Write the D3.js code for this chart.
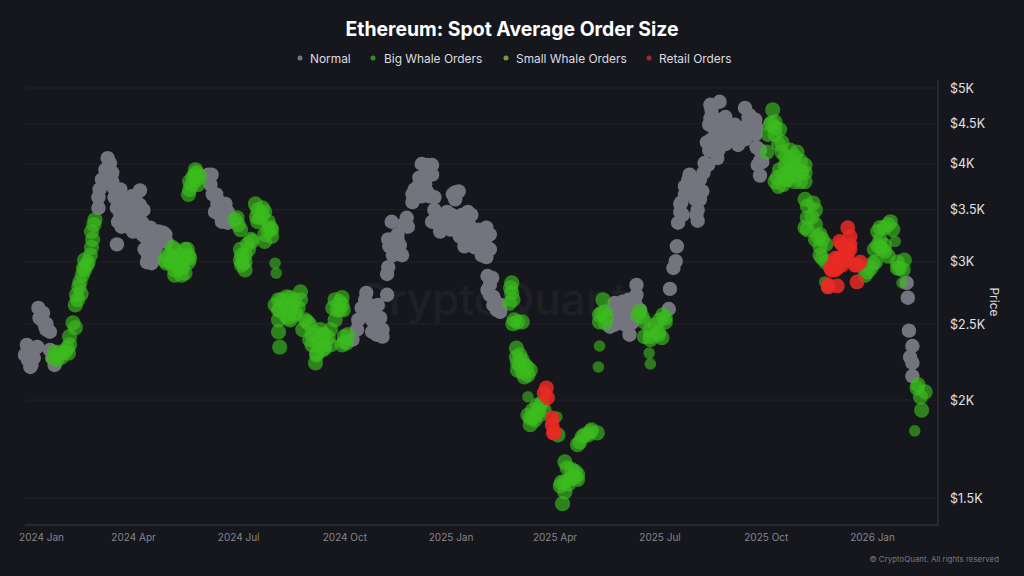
<!DOCTYPE html>
<html><head><meta charset="utf-8">
<script src="https://cdnjs.cloudflare.com/ajax/libs/d3/7.8.5/d3.min.js"></script>
<style>html,body{margin:0;padding:0;background:#16171c;overflow:hidden}svg{display:block;font-family:Inter,"Liberation Sans",sans-serif}</style>
</head><body><svg id="c" width="1024" height="576"></svg>
<script>
const title = "Ethereum: Spot Average Order Size";
const seriesNames = ["Normal","Big Whale Orders","Small Whale Orders","Retail Orders"];
const priceTicks = [1500,2000,2500,3000,3500,4000,4500,5000];
const priceLabels = ["$1.5K","$2K","$2.5K","$3K","$3.5K","$4K","$4.5K","$5K"];
const dateTicks = ["2024-01-01","2024-04-01","2024-07-01","2024-10-01","2025-01-01","2025-04-01","2025-07-01","2025-10-01","2026-01-01"];
const dateLabels = ["2024 Jan","2024 Apr","2024 Jul","2024 Oct","2025 Jan","2025 Apr","2025 Jul","2025 Oct","2026 Jan"];

// days since 2024-01-01 and price in USD
const normalDay = [-1,8,-2.6,2,0,3,2,9,13,12,15,19,16,19,21,23,61,61,64,68,73,69,71,67,74,75,77,82,90,97,94,100,87,81,77,93,91,99,101,117,112,104,106,103,107,114,120,110,84,80,93,106,110,156,158,160,166,162,169,173,175,166,293,311,289,296,303,299,303,298,307,285,281,307,312,311,316,313,318,324,320,315,328,329,325,341,350,350,339,338,333,333,341,346,352,370,370,357,354,357,367,368,381,378,374,378,397,390,385,397,393,384,363,398,400,403,403,409,406,508,515,515,511,527,526,521,523,504,520,555,556,559,561,562,563,565,566,569,573,578,584,580,580,585,586,588,591,599,591,598,597,595,604,605,610,617,615,621,624,621,630,631,631,636,634,601,608,573,592,761,762,763,766,764,766,766];
const normalPrice = [2352,2338,2283,2303,2250,2217,2204,2621,2583,2531,2480,2444,2459,2317,2263,2217,3516,3627,3821,3877,3899,4070,4012,3821,3734,3627,3516,3546,3638,3701,3546,3495,3495,3327,3159,3327,3280,3366,3233,3270,3205,3141,3043,2998,2989,3177,3186,3114,3606,3445,3445,3205,3252,3877,3766,3659,3577,3475,3495,3366,3416,3445,2740,2724,2621,2644,2644,2553,2509,2444,2409,2459,2388,2459,2955,2896,3141,3141,3087,3060,3205,3376,3416,3327,3347,4000,3988,3877,3843,3745,3659,3577,3638,3680,3627,3680,3606,3445,3366,3280,3445,3366,3475,3366,3233,3141,3318,3299,3233,3132,3060,3205,3366,2879,2804,2708,2644,2591,2606,2659,2669,2583,2531,2804,2659,2423,2509,2480,2591,2613,2772,2947,3007,3141,3366,3475,3577,3745,3877,3734,3690,3495,3386,3899,4012,4262,4760,4802,4578,4166,4070,4425,4591,4462,4363,4300,4425,4717,4591,4462,4555,4450,4200,4024,3866,4363,4490,3712,4300,2821,2701,2452,2344,2269,2230,2146];
const normalDayMore = [4,0,5,10,16,67,62,73,80,87,93,84,90,97,78,88,97,99,106,106,113,119,101,110,104,114,95,80,87,159,163,171,164,171,168,173,292,294,301,298,305,292,302,286,316,312,320,322,335,344,338,348,344,346,348,368,373,361,366,372,359,374,378,382,382,387,391,396,400,400,390,384,376,378,397,396,350,352,363,400,398,404,402,409,506,513,520,523,520,527,530,517,508,572,575,580,569,565,578,582,567,579,589,582,592,598,590,602,604,608,612,615,621,625,627,630,590,595,604,634,632,625,634];
const normalPriceMore = [2323,2317,2263,2546,2501,3933,3712,3799,3606,3606,3606,3445,3416,3546,3376,3318,3347,3252,3318,3132,3280,3252,3114,3034,3060,3252,3445,3712,3347,3877,3659,3557,3557,3416,3376,3475,2644,2568,2495,2531,2546,2685,2423,2531,3060,3205,3252,3150,3712,3766,3638,3638,3877,3988,3933,3659,3690,3396,3299,3347,3347,3376,3252,3347,3159,3132,3205,3205,3252,3114,3159,3445,3445,3205,3043,3060,3376,3495,3475,2724,2764,2685,2863,2644,2606,2606,2685,2644,2531,2724,2606,2495,2495,3821,3766,3712,3659,3557,3606,3606,3445,3445,3988,3821,4689,4555,4490,4555,4425,4300,4490,4230,4300,4425,4555,4363,4166,4240,4240,4036,3988,4615,4166];

const bigDay = [22,26,32,25,35,36,39,41,44,45,49,51,49,55,56,57,58,125,138,129,120,134,133,127,139,123,132,136,146,139,142,146,140,149,181,184,199,203,198,208,211,205,194,191,185,186,188,217,224,236,227,223,234,217,218,242,238,249,253,257,249,250,262,264,270,272,273,274,276,231,255,419,419,417,420,428,423,423,424,432,430,424,428,437,435,443,441,445,459,478,482,488,493,480,465,467,474,462,469,465,463,461,498,497,500,532,534,539,546,550,552,549,645,644,647,640,647,653,653,666,662,670,654,650,658,669,649,664,673,673,680,679,675,684,686,688,727,732,738,742,736,745,749,738,753,759,758,771,770,777,773,774];
const bigPrice = [2263,2283,2303,2250,2296,2409,2509,2644,2788,2829,2930,2973,3016,3132,3205,3347,3396,3132,3114,3034,2989,2955,2887,2930,3060,3060,2989,2904,3899,3659,3766,3821,3799,3855,3416,3299,3495,3516,3425,3299,3233,3186,3186,3114,3060,2989,2930,2685,2708,2748,2606,2568,2621,2444,2337,2516,2459,2437,2365,2330,2230,2296,2459,2621,2669,2644,2606,2409,2365,2568,2423,2821,2740,2659,2502,2516,2330,2269,2230,2204,2140,2184,2250,1898,1860,1959,1925,1982,1805,1769,1805,1832,1816,1795,1668,1639,1593,1570,1584,1527,1475,1554,2685,2583,2509,2553,2516,2409,2444,2568,2516,2402,4689,4515,4528,4142,4363,4262,4142,4142,3967,3910,3877,3745,3821,3799,3843,3877,3899,3606,3567,3425,3299,3233,3141,3034,2913,2989,3132,3096,3280,3347,3299,3205,2947,3016,2930,2091,2073,2048,2019,1942];
const bigDayMore = [28,23,29,34,36,41,42,47,48,54,52,55,46,43,121,127,132,136,140,127,123,130,133,118,139,133,127,130,123,136,145,143,140,145,147,179,182,199,203,197,205,201,208,205,210,211,193,188,184,190,185,188,184,220,227,223,229,218,231,225,236,227,214,232,217,217,244,240,246,253,260,257,251,255,246,244,257,250,262,266,268,266,272,270,274,277,272,421,424,426,430,428,433,426,435,418,420,439,443,433,437,435,441,447,471,468,474,471,465,476,476,487,485,476,495,500,495,501,539,543,547,552,546,539,534,530,528,643,641,647,651,650,660,656,660,664,669,673,656,664,673,660,669,651,647,654,664,656,660,675,682,675,682,673,686,682,691,686,691,688,730,734,725,736,742,733,740,745,738,742,747,755,753];
const bigPriceMore = [2303,2303,2269,2330,2352,2473,2724,2887,2947,3060,2998,3280,2732,2685,3060,3114,3060,3034,3034,2998,2998,2947,3034,3016,2998,2947,2887,2973,2998,3114,3877,3855,3712,3933,3766,3396,3347,3376,3445,3557,3475,3416,3376,3252,3318,3299,3205,3060,3016,3159,2973,2998,3114,2685,2701,2644,2644,2606,2685,2546,2685,2531,2644,2583,2606,2531,2495,2531,2423,2459,2402,2423,2352,2317,2352,2388,2352,2283,2352,2531,2606,2685,2701,2606,2372,2423,2352,2531,2516,2283,2217,2171,2153,2217,2184,2780,2685,1886,1914,1914,1942,1898,1971,1942,1630,1562,1621,1593,1574,1584,1606,1821,1805,1754,2568,2591,2516,2546,2459,2495,2531,2546,2423,2388,2409,2598,2568,4490,4363,4450,4425,4240,4036,3988,3933,3988,4036,3988,3821,3799,3799,3877,3910,3933,3799,3766,4090,4090,4166,3536,3495,3416,3347,3318,3252,3205,3159,3060,2998,3205,2947,2998,2887,3150,3150,3114,3114,3051,3318,3318,3376,2947,2998];

const smallDay = [214,215,433,458,495,494,538,539,690,692,751,757,768];
const smallPrice = [2989,2904,2019,1903,2344,2204,2296,2224,2829,2780,3186,2821,1827];

const retailDay = [449,450,454,455,693,701,695,699,705,710,703,710,712,718,718,708,699,702,708,712,701,696,705,712,716,721,710,705,699,693,447,454,456];
const retailPrice = [2073,2013,1898,1816,2788,2796,2947,2989,3043,3096,3186,3318,3233,2973,2829,3016,2930,3034,3114,3114,2947,2930,3159,3159,2973,2998,3034,2973,3034,2804,2042,1859,1820];

const colors = {bg:"#16171c",grid:"#202128",axis:"#3a3b43",normal:"#74747f",big:"#3cbc1e",small:"#3cbc1e",retail:"#e82a24",legendSmall:"#7d9a3a",legendBig:"#2f8f22"};

const svg = d3.select("#c");
svg.append("rect").attr("width",1024).attr("height",576).attr("fill",colors.bg);

const origin = Date.UTC(2024,0,1);
const parse = s => new Date(s+"T00:00:00Z");
const toDate = d => new Date(origin + d*864e5);
const x = d3.scaleUtc().domain([parse(dateTicks[0]),parse(dateTicks[8])]).range([28,872]);
const y = d3.scaleLog().domain([5000,1500]).range([88,498]);

svg.append("g").selectAll("line").data(priceTicks).join("line")
  .attr("x1",25).attr("x2",938).attr("y1",d=>y(d)).attr("y2",d=>y(d)).attr("stroke",colors.grid);

svg.append("text").attr("x",492).attr("y",315).attr("text-anchor","middle").attr("font-size",44).attr("font-weight",500)
  .attr("fill","#1f2026").text("CryptoQuant");

const ax = svg.append("g").attr("transform","translate(0,525)")
  .call(d3.axisBottom(x).tickValues(dateTicks.map(parse)).tickFormat((d,i)=>dateLabels[i]).tickSize(0).tickPadding(9));
ax.select(".domain").remove();
ax.selectAll("text").attr("fill","#85858c").attr("font-size",10).attr("font-family","Inter,sans-serif");
ax.selectAll(".tick:first-of-type text").attr("dx",13);
svg.append("line").attr("x1",25).attr("x2",938).attr("y1",525).attr("y2",525).attr("stroke",colors.axis);

const ay = svg.append("g").attr("transform","translate(938,0)")
  .call(d3.axisRight(y).tickValues(priceTicks).tickFormat(d=>priceLabels[priceTicks.indexOf(d)]).tickSize(0).tickPadding(12));
ay.select(".domain").remove();
ay.selectAll("text").attr("fill","#e2e2e6").attr("font-size",12.5).attr("font-family","Inter,sans-serif");
svg.append("line").attr("x1",938).attr("x2",938).attr("y1",80).attr("y2",525).attr("stroke",colors.axis);

function plot(days,prices,fill,op,r){
  svg.append("g").selectAll("circle").data(days.map((d,i)=>[d,prices[i]])).join("circle")
    .attr("cx",d=>x(toDate(d[0]))).attr("cy",d=>y(d[1])).attr("r",r).attr("fill",fill).attr("fill-opacity",op);
}
plot(normalDay.concat(normalDayMore),normalPrice.concat(normalPriceMore),colors.normal,1,7.2);
plot(bigDay.concat(bigDayMore),bigPrice.concat(bigPriceMore),colors.big,0.65,7.6);
plot(smallDay,smallPrice,colors.small,0.6,5.8);
plot(retailDay,retailPrice,colors.retail,0.85,7.4);

svg.append("text").attr("x",512).attr("y",36).attr("text-anchor","middle").attr("font-size",19.4).attr("font-weight",700)
  .attr("fill","#fff").text(title);
const legendX = [300,373,506,649];
const legendC = [colors.normal,colors.legendBig,colors.legendSmall,"#a32a2c"];
const legendGap = [10,11,10,10];
const lg = svg.append("g").selectAll("g").data(seriesNames).join("g")
  .attr("transform",(d,i)=>`translate(${legendX[i]},58)`);
lg.append("circle").attr("r",2.5).attr("fill",(d,i)=>legendC[i]);
lg.append("text").attr("x",(d,i)=>legendGap[i]).attr("y",4.5).attr("font-size",11.9).attr("fill","#dcdce0").text(d=>d);

svg.append("text").attr("transform","translate(990,302) rotate(90)").attr("text-anchor","middle").attr("font-size",12)
  .attr("fill","#dcdce0").text("Price");
svg.append("text").attr("x",999).attr("y",562).attr("text-anchor","end").attr("font-size",7.9).attr("fill","#77777e")
  .text("© CryptoQuant. All rights reserved");
</script></body></html>
